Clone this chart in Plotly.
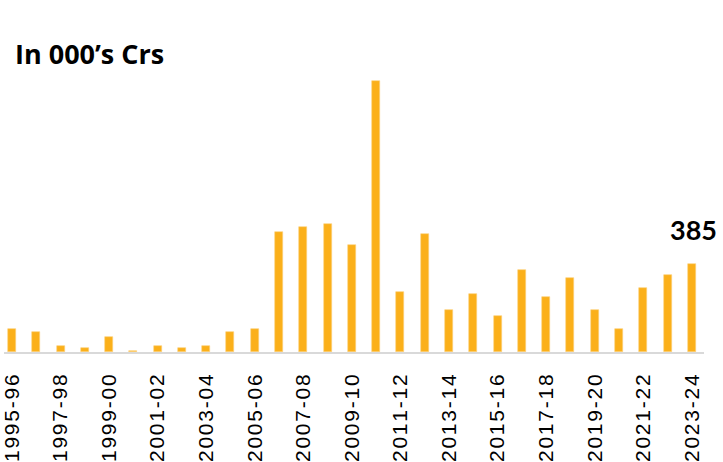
import plotly.graph_objects as go

# Fiscal years and amounts (in thousand crores)
years = [
    "1995-96", "1996-97", "1997-98", "1998-99", "1999-00", "2000-01",
    "2001-02", "2002-03", "2003-04", "2004-05", "2005-06", "2006-07",
    "2007-08", "2008-09", "2009-10", "2010-11", "2011-12", "2012-13",
    "2013-14", "2014-15", "2015-16", "2016-17", "2017-18", "2018-19",
    "2019-20", "2020-21", "2021-22", "2022-23", "2023-24",
]
values = [
    100, 87, 28, 16, 64, 4,
    28, 16, 28, 87, 100, 526,
    551, 563, 468, 1190, 265, 516,
    184, 254, 159, 360, 242, 325,
    184, 100, 279, 337, 385,
]
tick_years = years[::2]
title_text = "In 000’s Crs"

BAR = "#FBB01A"
HAIR = "\u200a"


def spaced(label):
    return HAIR.join(label)


fig = go.Figure(
    go.Bar(
        x=years,
        y=values,
        width=0.33,
        marker=dict(color=BAR, line=dict(color="#FDD27E", width=0.6)),
        hoverinfo="x+y",
    )
)

# Value callout on the latest year
fig.add_annotation(
    x=years[-1], y=values[-1], text=f"<b>{values[-1]}</b>",
    showarrow=False, yanchor="bottom", yshift=16, xshift=2,
    font=dict(family="Lato", size=27, color="#000000"),
)

fig.add_annotation(
    xref="paper", yref="paper", x=0, y=1, xanchor="left", yanchor="middle",
    xshift=9, yshift=7,
    text=f"<b>{title_text}</b>", showarrow=False,
    font=dict(family="Open Sans", size=27, color="#000000"),
)

fig.update_layout(
    width=723, height=462,
    margin=dict(l=0, r=19, t=60, b=109),
    paper_bgcolor="white", plot_bgcolor="white",
    showlegend=False,
    bargap=0,
    xaxis=dict(
        type="category",
        range=[-0.327, 28.5],
        tickmode="array",
        tickvals=tick_years,
        ticktext=[spaced(t) for t in tick_years],
        tickangle=-90,
        ticks="",
        showgrid=False,
        showline=True, linecolor="#D9D9D9", linewidth=2,
        tickfont=dict(family="Liberation Sans", size=21, color="#000000"),
        ticklabelstandoff=12,
    ),
    yaxis=dict(
        range=[0, 1282],
        visible=False,
        showgrid=False,
        zeroline=False,
    ),
)

fig.write_html("out.html")
